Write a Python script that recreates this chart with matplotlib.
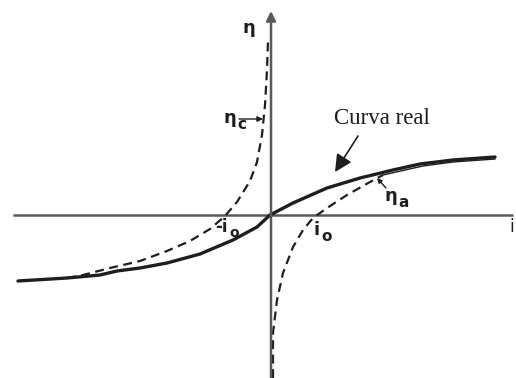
import matplotlib
matplotlib.use("Agg")
import matplotlib.pyplot as plt

# Real polarisation curve (current i vs overpotential eta), arbitrary units
real_i = [-252, -203, -170, -153, -130, -103, -70, -37, -13, 0, 23, 57, 90, 123, 150, 183, 225]
real_eta = [-66, -63, -60, -56, -53, -48, -39, -25, -12, 0, 12, 27, 37, 45, 51, 55, 58]

# Cathodic Tafel branch (eta_c), dashed
cat_i = [-203, -187, -160, -130, -103, -80, -60, -45, -33, -20, -13, -8, -5, -3, -2]
cat_eta = [-63, -60, -53, -46, -36, -26, -14, -1, 13, 34, 53, 80, 110, 145, 175]

# Anodic Tafel branch (eta_a), dashed
an_i = [3, 3, 7, 13, 23, 33, 43, 57, 77, 100, 113]
an_eta = [-163, -118, -85, -58, -32, -15, -3, 7, 20, 33, 40]

# anodic branch after it joins the real curve
an_tail_i = [113, 153, 183, 225]
an_tail_eta = [40, 49, 53, 56]

fig = plt.figure(figsize=(5.16, 3.78), dpi=100)
ax = fig.add_axes([0, 0, 1, 1])
ax.set_xlim(-270, 246)
ax.set_ylim(-163, 215)
ax.axis("off")

axis_col = "#5a5a5a"
ink = "#1e1e1e"

# coordinate axes
ax.plot([-257, 243], [0, 0], color=axis_col, lw=1.8, solid_capstyle="butt")
ax.annotate("", xy=(1, 204), xytext=(1, -163),
            arrowprops=dict(arrowstyle="-|>", color=axis_col, lw=1.8,
                            mutation_scale=14, shrinkA=0, shrinkB=0))

# curves
ax.plot(real_i, real_eta, color=ink, lw=2.4, solid_capstyle="round",
        solid_joinstyle="round")
ax.plot(cat_i, cat_eta, color=ink, lw=1.6, ls=(0, (4, 2.5)))
ax.plot(an_i, an_eta, color=ink, lw=1.6, ls=(0, (4, 2.5)))
ax.plot(an_tail_i, an_tail_eta, color=ink, lw=1.0)


def sym(x, y, main, sub, size=13):
    """Upright symbol with a small sans subscript."""
    ax.text(x, y, main, fontsize=size, fontweight="bold", color=ink,
            ha="right", va="center")
    if sub:
        ax.text(x + 1, y - 6, sub, fontsize=size - 2, fontweight="bold",
                color=ink, ha="left", va="center")


# labels
sym(-15, 187, "η", None)
ax.text(242, -3, "i", fontsize=12, color=ink, ha="center", va="top")

sym(-34, 97, "η", "c")
ax.annotate("", xy=(-7, 96), xytext=(-31, 96),
            arrowprops=dict(arrowstyle="-|>", color=ink, lw=1.0,
                            mutation_scale=8, shrinkA=0, shrinkB=0))

sym(127, 19, "η", "a")
ax.annotate("", xy=(107, 37), xytext=(116, 27),
            arrowprops=dict(arrowstyle="-|>", color=ink, lw=1.0,
                            mutation_scale=7, shrinkA=0, shrinkB=0))

sym(50, -15, "i", "o")
sym(-42, -12, "-i", "o", size=12)

ax.text(112, 97, "Curva real", fontsize=16.5, family="Liberation Serif",
        color=ink, ha="center", va="center")
ax.annotate("", xy=(65, 43), xytext=(88, 79),
            arrowprops=dict(arrowstyle="-|>", color=ink, lw=1.2,
                            mutation_scale=26, shrinkA=0, shrinkB=0))

fig.savefig("out.png", dpi=100)
